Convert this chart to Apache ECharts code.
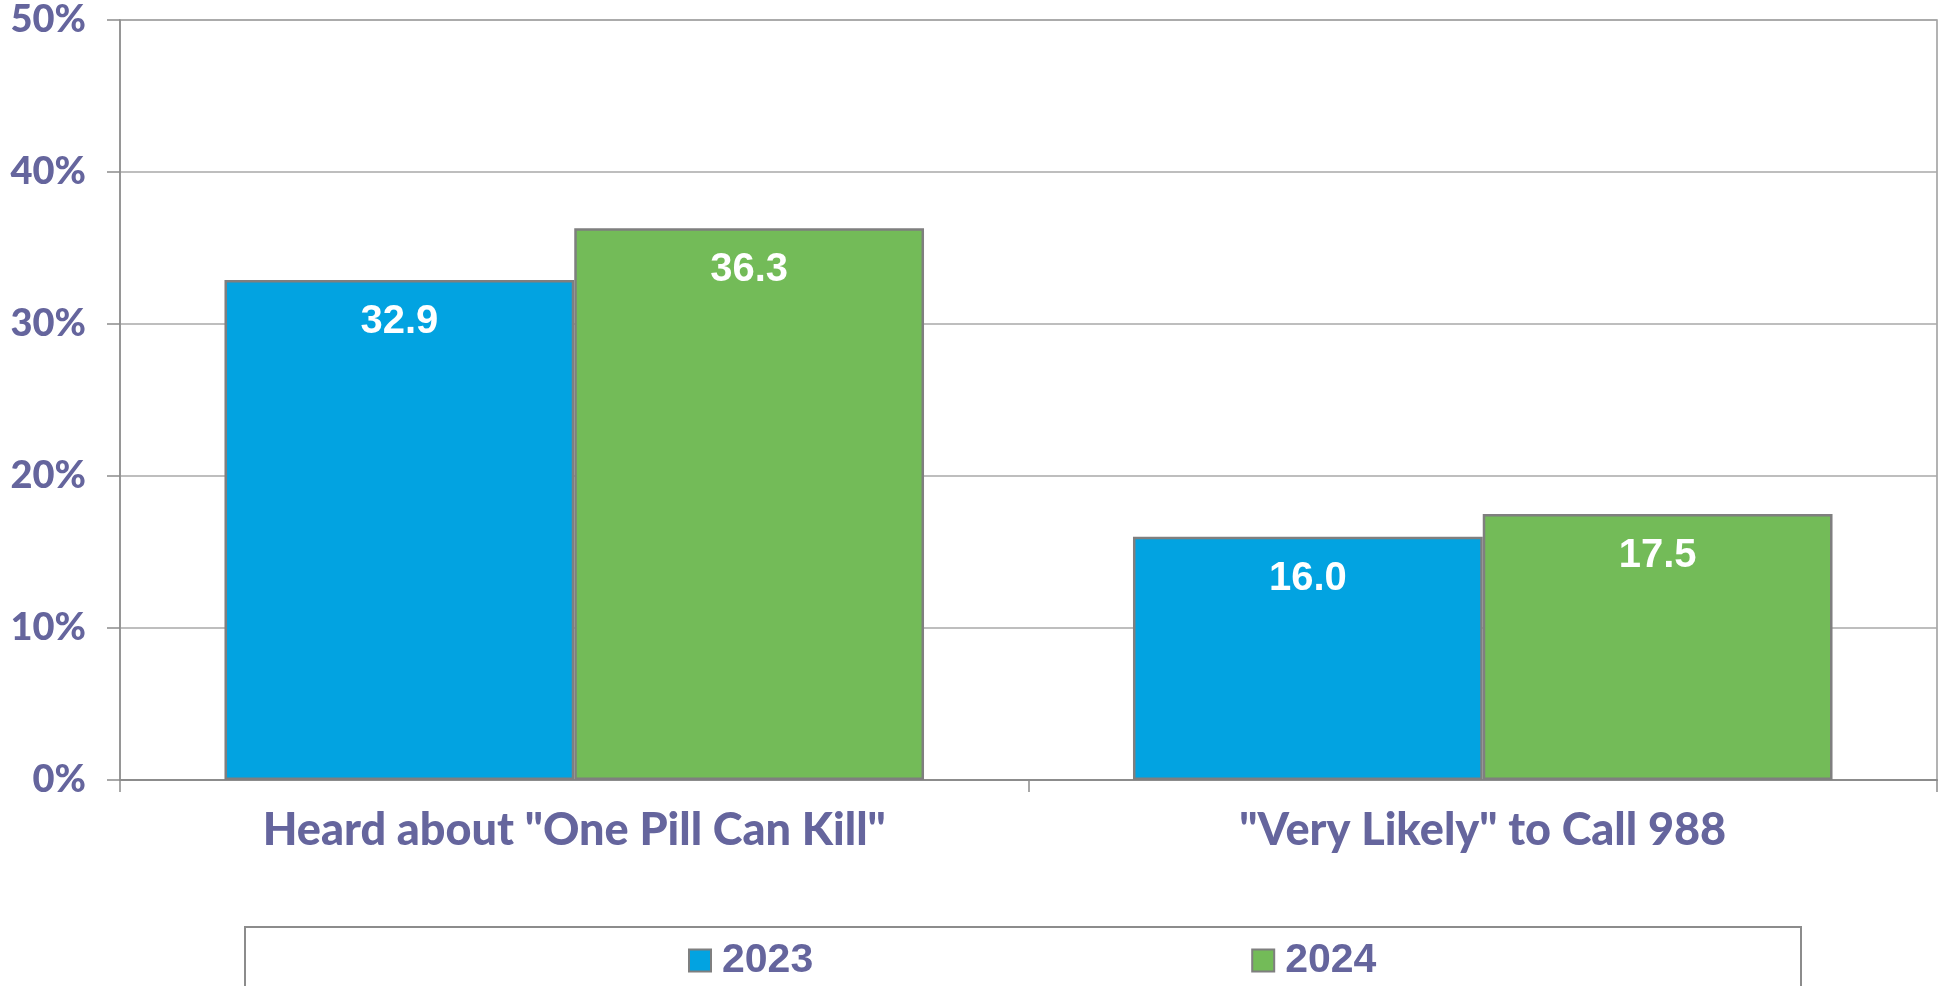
<!DOCTYPE html>
<html>
<head>
<meta charset="utf-8">
<script src="https://cdn.jsdelivr.net/npm/echarts@6/dist/echarts.min.js"></script>
<style>html,body{margin:0;padding:0;background:#fff}#c{width:1944px;height:986px}</style>
</head>
<body>
<div id="c"></div>
<script>
const categories = ['Heard about "One Pill Can Kill"', '"Very Likely" to Call 988'];
const seriesNames = ['2023', '2024'];
const values2023 = [32.9, 16.0];
const values2024 = [36.3, 17.5];
const yTicks = [0, 10, 20, 30, 40, 50];

const textColor = '#65659d';
const chart = echarts.init(document.getElementById('c'));
const labelCfg = {
  show: true, position: 'insideTop', distance: 22, color: '#fff',
  fontFamily: 'Liberation Sans', fontWeight: 'bold', fontSize: 40,
  formatter: p => p.value.toFixed(1)
};
chart.setOption({
  animation: false,
  grid: { left: 120, right: 7, top: 20, bottom: 206, show: true, borderColor: '#9a9a9a', borderWidth: 1.5 },
  legend: {
    data: seriesNames, left: 683, top: 935, itemGap: 438, itemWidth: 22, itemHeight: 22,
    icon: 'rect',
    itemStyle: { borderColor: '#7f7f7f', borderWidth: 2 },
    textStyle: { color: textColor, fontFamily: 'Liberation Sans', fontWeight: 'bold', fontSize: 41, padding: [0, 0, 0, 6] }
  },
  graphic: [{ type: 'rect', shape: { x: 245, y: 927, width: 1556, height: 120 }, style: { fill: 'none', stroke: '#8c8c8c', lineWidth: 2 }, silent: true }],
  xAxis: {
    type: 'category', data: categories,
    axisLine: { lineStyle: { color: '#8c8c8c', width: 2 } },
    axisTick: { show: true, length: 12, lineStyle: { color: '#8c8c8c', width: 1.5 } },
    axisLabel: { margin: 28, color: textColor, fontFamily: 'Lato', fontWeight: 900, fontSize: 45 }
  },
  yAxis: {
    type: 'value', min: yTicks[0], max: yTicks[yTicks.length - 1], interval: 10,
    axisLine: { show: true, lineStyle: { color: '#8c8c8c', width: 1.5 } },
    axisTick: { show: true, length: 13, lineStyle: { color: '#8c8c8c', width: 1.5 } },
    splitLine: { lineStyle: { color: '#a8a8a8', width: 1.5 } },
    axisLabel: { margin: 34, color: textColor, fontFamily: 'Lato', fontWeight: 900, fontSize: 38, formatter: '{value}%' }
  },
  series: [
    { name: seriesNames[0], type: 'bar', data: values2023, barGap: '0%', barCategoryGap: '23%',
      itemStyle: { color: '#02a3e1', borderColor: '#7f7f7f', borderWidth: 2.5 }, label: labelCfg },
    { name: seriesNames[1], type: 'bar', data: values2024, barGap: '0%', barCategoryGap: '23%',
      itemStyle: { color: '#73bb58', borderColor: '#7f7f7f', borderWidth: 2.5 }, label: labelCfg }
  ]
});
</script>
</body>
</html>
